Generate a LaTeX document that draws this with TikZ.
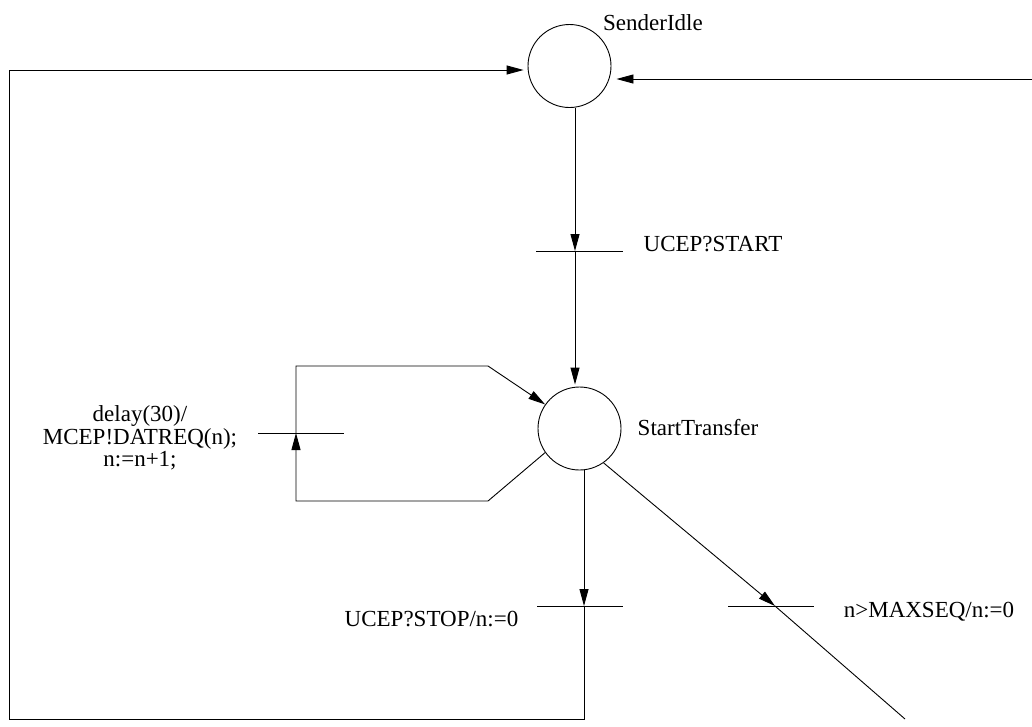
\documentclass[tikz,border=0pt]{standalone}
\usepackage{fontspec}
\setmainfont{Liberation Serif}
\usetikzlibrary{arrows.meta}
\begin{document}
\begin{tikzpicture}[x=1pt,y=-1pt,
  line width=0.9pt,
  state/.style={circle,draw,minimum size=83pt,inner sep=0pt},
  lbl/.style={font=\fontsize{23}{22.5}\selectfont,inner sep=0pt},
  arr/.style={-{Triangle[length=17pt,width=9pt]}}]
\useasboundingbox (0,0) rectangle (1032,726);
% states
\node[state] (sidle) at (569.5,66) {};
\node[state] (st) at (579.5,428.5) {};
% labels
\node[lbl,anchor=base] (lsidle) at (653,30) {SenderIdle};
\node[lbl,anchor=base] (lst) at (698,435) {StartTransfer};
\node[lbl,anchor=base] (lstart) at (713,251) {UCEP?START};
\node[lbl,anchor=base] (lstop) at (431.5,626) {UCEP?STOP/n:=0};
\node[lbl,anchor=base] (lmax) at (929,617) {n>MAXSEQ/n:=0};
\node[lbl,align=center] (ldelay) at (140,438) {delay(30)/\\MCEP!DATREQ(n);\\n:=n+1;};
% bar coordinates
\coordinate (b1) at (575,251);
\coordinate (b1l) at (536,251);
\coordinate (b1r) at (623,251);
\coordinate (b3) at (584,606);
\coordinate (b3l) at (537,606);
\coordinate (b3r) at (623,606);
\coordinate (b4) at (296,433);
\coordinate (b4l) at (258,433);
\coordinate (b4r) at (344,433);
\coordinate (b5) at (775,606);
\coordinate (b5l) at (728,606);
\coordinate (b5r) at (814,606);
% corners
\coordinate (rin) at (1032,79);
\coordinate (c1) at (9,70);
\coordinate (c2) at (9,719);
\coordinate (c3) at (584,719);
\coordinate (l1) at (488,501);
\coordinate (l2) at (296,501);
\coordinate (l3) at (296,366);
\coordinate (l4) at (488,366);
\coordinate (dend) at (905,719);
% bars
\draw (b1l) -- (b1r);
\draw (b3l) -- (b3r);
\draw (b4l) -- (b4r);
\draw (b5l) -- (b5r);
% SenderIdle -> StartTransfer
\draw[arr] (sidle.south -| b1) -- (b1);
\draw[arr,shorten >=2pt] (b1) -- (st.north -| b1);
% external input on the right
\draw[arr,shorten >=5pt] (rin) -- (sidle.east |- rin);
% StartTransfer -> SenderIdle (stop)
\draw[arr] (st.south -| b3) -- (b3);
\draw[arr,shorten >=4pt] (b3) -- (c3) -- (c2) -- (c1) -- (sidle.west |- c1);
% self loop
\draw[arr] (st.215) -- (l1) -- (l2) -- (b4);
\draw[arr] (b4) -- (l3) -- (l4) -- (st.145);
% MAXSEQ exit
\draw[arr] (st.-55) -- (b5);
\draw (b5) -- (dend);
\end{tikzpicture}
\end{document}
